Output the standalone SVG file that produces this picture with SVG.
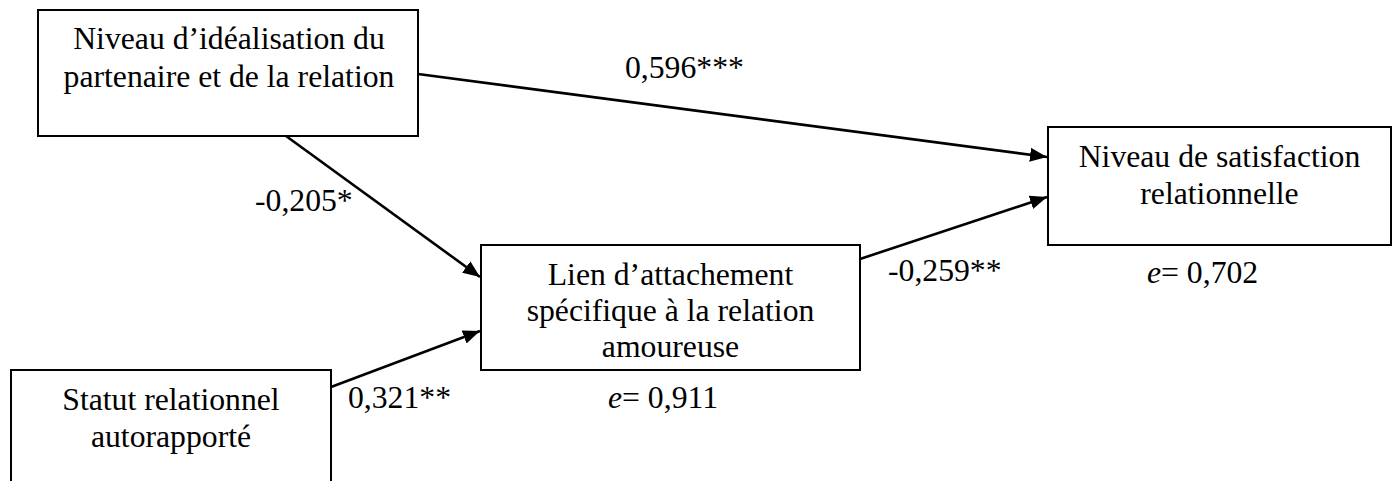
<svg xmlns="http://www.w3.org/2000/svg" width="1397" height="481" viewBox="0 0 1397 481">
  <style>
    .box { fill: #ffffff; stroke: #000000; stroke-width: 2; }
    .lbl { font-size: 31.7px; fill: #000000; }
    .mid { text-anchor: middle; }
    .edge { stroke: #000000; stroke-width: 2.6; fill: none; marker-end: url(#head); }
  </style>
  <defs>
    <marker id="head" markerUnits="userSpaceOnUse" markerWidth="20" markerHeight="16" refX="17" refY="7" orient="auto">
      <path d="M0,0 L17,7 L0,14 Z" fill="#000000"/>
    </marker>
  </defs>
  <rect width="1397" height="481" fill="#ffffff"/>

  <g font-family="Liberation Serif, Tinos, Times New Roman, Times, serif">
  <g id="connectors">
    <line class="edge" x1="418" y1="74" x2="1047" y2="157"/>
    <line class="edge" x1="286" y1="136" x2="480" y2="277"/>
    <line class="edge" x1="331" y1="387" x2="480" y2="331"/>
    <line class="edge" x1="860" y1="259" x2="1047" y2="197"/>
    <text class="lbl" x="625" y="78">0,596***</text>
    <text class="lbl" x="255" y="211">-0,205*</text>
    <text class="lbl" x="888" y="281">-0,259**</text>
    <text class="lbl" x="348" y="408">0,321**</text>
  </g>

  <g id="idealisation">
    <rect class="box" x="38" y="10" width="380" height="126"/>
    <text class="lbl mid" x="229" y="49">Niveau d’idéalisation du</text>
    <text class="lbl mid" x="229" y="87">partenaire et de la relation</text>
  </g>

  <g id="satisfaction">
    <rect class="box" x="1048" y="127" width="343" height="118"/>
    <text class="lbl mid" x="1219.5" y="167">Niveau de satisfaction</text>
    <text class="lbl mid" x="1219.5" y="204">relationnelle</text>
    <text class="lbl" x="1147" y="283"><tspan font-style="italic">e</tspan>= 0,702</text>
  </g>

  <g id="attachement">
    <rect class="box" x="481" y="245" width="379" height="125"/>
    <text class="lbl mid" x="670.5" y="285">Lien d’attachement</text>
    <text class="lbl mid" x="670.5" y="321">spécifique à la relation</text>
    <text class="lbl mid" x="670.5" y="357">amoureuse</text>
    <text class="lbl" x="608" y="408"><tspan font-style="italic">e</tspan>= 0,911</text>
  </g>

  <g id="statut">
    <rect class="box" x="11" y="370" width="320" height="130"/>
    <text class="lbl mid" x="171" y="410">Statut relationnel</text>
    <text class="lbl mid" x="171" y="447">autorapporté</text>
  </g>
  </g>
</svg>
